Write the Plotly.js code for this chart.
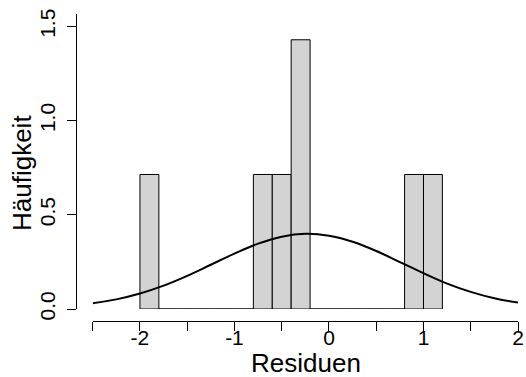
<!DOCTYPE html>
<html>
<head>
<meta charset="utf-8">
<script src="https://cdn.plot.ly/plotly-3.0.1.min.js"></script>
<style>html,body{margin:0;padding:0;background:#fff;}#chart{width:526px;height:377px;}</style>
</head>
<body>
<div id="chart"></div>
<script>
// Histogram bins (width 0.2) and densities
const binCenters = [-1.9,-1.7,-1.5,-1.3,-1.1,-0.9,-0.7,-0.5,-0.3,-0.1,0.1,0.3,0.5,0.7,0.9,1.1];
const density    = [0.714,0,0,0,0,0,0.714,0.714,1.429,0,0,0,0,0,0.714,0.714];
const binWidth = 0.2;

// Normal density curve
const curveX = [-2.5,-2.25,-2.0,-1.75,-1.5,-1.25,-1.0,-0.75,-0.5,-0.25,0,0.25,0.5,0.75,1.0,1.25,1.5,1.75,2.0];
const curveY = [0.030,0.051,0.082,0.124,0.176,0.235,0.294,0.347,0.384,0.399,0.389,0.357,0.308,0.249,0.190,0.135,0.091,0.057,0.034];

// Axis ticks
const xTickVals = [-2.5,-2,-1.5,-1,-0.5,0,0.5,1,1.5,2];
const xTickText = ['','-2','','-1','','0','','1','','2'];
const yTickVals = [0,0.5,1.0,1.5];
const yTickText = ['0.0','0.5','1.0','1.5'];

const W = 526, H = 377;
const font = 'Liberation Sans, Arial, Helvetica, sans-serif';

const traces = [
  {
    type: 'bar', x: binCenters, y: density, width: binWidth,
    marker: {color: '#d3d3d3', line: {color: '#000', width: 1}},
    hoverinfo: 'skip'
  },
  {
    type: 'scatter', mode: 'lines', x: curveX, y: curveY,
    line: {color: '#000', width: 2, shape: 'spline', smoothing: 1},
    hoverinfo: 'skip'
  },
  // empty trace so the label-only x axis is registered
  {type: 'scatter', mode: 'lines', x: [], y: [], xaxis: 'x2', yaxis: 'y', hoverinfo: 'skip'}
];

const xDomain = [92.7/W, 518/W];
const layout = {
  width: W, height: H,
  margin: {l: 0, r: 0, t: 0, b: 0, pad: 0},
  paper_bgcolor: '#fff', plot_bgcolor: '#fff',
  showlegend: false,
  bargap: 0,
  font: {family: font, color: '#000'},
  xaxis: {
    domain: xDomain,
    range: [-2.5, 2],
    anchor: 'free', position: (H-320.7)/H,
    showline: true, linecolor: '#000', linewidth: 1,
    ticks: 'outside', ticklen: 9, tickwidth: 1, tickcolor: '#000',
    tickvals: xTickVals, showticklabels: false,
    showgrid: false, zeroline: false, automargin: false
  },
  xaxis2: {
    domain: xDomain,
    range: [-2.5, 2],
    overlaying: 'x',
    anchor: 'free', position: (H-322.5)/H,
    showline: false, ticks: '',
    tickvals: xTickVals, ticktext: xTickText,
    tickfont: {size: 21, family: font, color: '#000'},
    showgrid: false, zeroline: false, automargin: false
  },
  yaxis: {
    domain: [(H-309)/H, (H-14)/H],
    range: [0, (309-14)/188.4],
    anchor: 'free', position: 75.7/W,
    showline: true, linecolor: '#000', linewidth: 1,
    ticks: 'outside', ticklen: 9, tickwidth: 1, tickcolor: '#000',
    tickvals: yTickVals, ticktext: yTickText, tickangle: -90,
    ticklabelstandoff: 3,
    tickfont: {size: 21, family: font, color: '#000'},
    showgrid: false, zeroline: false, automargin: false
  },
  annotations: [
    {text: 'Residuen', xref: 'paper', yref: 'paper', x: 306/W, y: 0,
     xanchor: 'center', yanchor: 'bottom', yshift: -3, showarrow: false,
     font: {size: 26, family: font, color: '#000'}},
    {text: 'Häufigkeit', xref: 'paper', yref: 'paper', x: 22/W, y: (H-173)/H,
     xanchor: 'center', yanchor: 'middle', showarrow: false, textangle: -90,
     font: {size: 26, family: font, color: '#000'}}
  ]
};

Plotly.newPlot('chart', traces, layout, {displayModeBar: false, staticPlot: true});
</script>
</body>
</html>
